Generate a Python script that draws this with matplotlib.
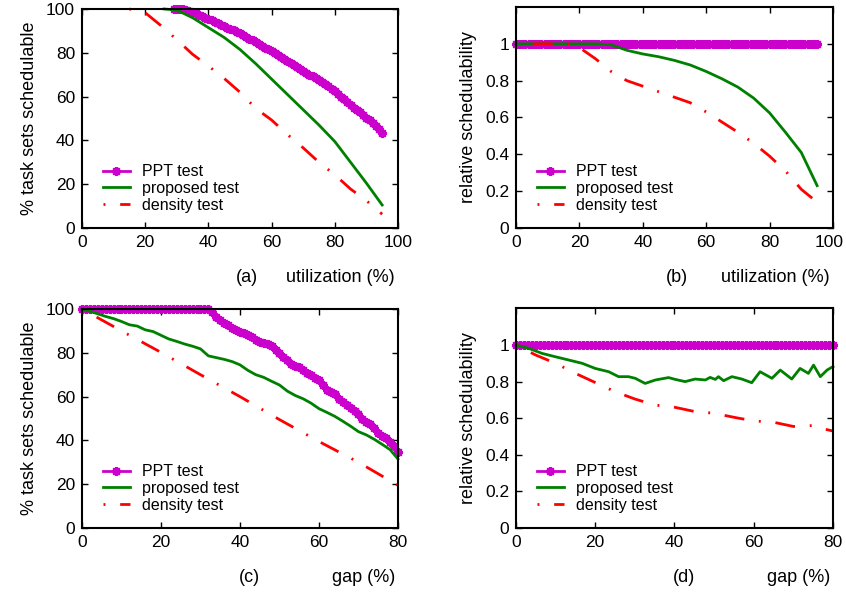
import numpy as np
import matplotlib
matplotlib.use("Agg")
import matplotlib.pyplot as plt
import matplotlib.transforms as mtransforms
from matplotlib.ticker import FormatStrFormatter

plt.rcParams['font.family'] = ['Liberation Sans', 'DejaVu Sans']

# ---- (a) % schedulable vs utilization
util_ppt = list(range(29, 96))
a_ppt = [100, 100, 100, 99.8, 99.5, 99, 98.5, 98, 97.4, 96.8, 96, 95.4, 94.8, 94,
         93.4, 92.8, 92.2, 91.5, 90.8, 90.2, 89.4, 88.8, 88, 87.3, 86.5, 85.8, 85,
         84.2, 83.2, 82.4, 81.5, 80.7, 79.8, 78.9, 78, 77.2, 76.2, 75.4, 74.5, 73.6,
         72.6, 71.8, 70.8, 70, 69.2, 68.3, 67.5, 66.6, 65.6, 64.8, 63.6, 62.4, 61.2,
         60, 58.8, 57.5, 56.3, 55, 53.9, 52.8, 51.6, 50.4, 49.2, 48, 46.6, 45, 43.5]
util_prop = [26, 30, 35, 40, 45, 50, 55, 60, 65, 70, 75, 80, 85, 90, 95]
a_prop = [100, 99.5, 96, 91.5, 87, 81.5, 75, 68, 61, 54, 47, 39.5, 30, 20.5, 10.5]
util_dens = [15, 20, 25, 30, 35, 40, 45, 50, 55, 60, 65, 70, 75, 80, 85, 90, 95]
a_dens = [100, 98.3, 92.4, 86, 79.3, 74, 68.3, 62, 54.6, 49.3, 42.7, 36.6, 30,
          24.3, 17.8, 12.5, 6.3]

# ---- (b) relative schedulability vs utilization
util_all = list(range(0, 96))
b_ppt = [1.0] * 96
util_b = [0, 5, 10, 15, 17, 20, 25, 30, 35, 40, 45, 50, 55, 60, 65, 70, 75, 80, 85, 90, 95]
b_prop = [1, 1, 1, 1, 1, 1, 1, 0.995, 0.965, 0.945, 0.93, 0.91, 0.885, 0.85, 0.81,
          0.765, 0.705, 0.625, 0.52, 0.41, 0.23]
b_dens = [1, 1, 1, 1, 1, 0.98, 0.92, 0.85, 0.8, 0.77, 0.74, 0.71, 0.68, 0.63,
          0.575, 0.52, 0.46, 0.39, 0.31, 0.21, 0.14]

# ---- (c) % schedulable vs gap
gap_all = list(range(0, 81))
c_ppt = [100] * 33 + [98.5, 96.5, 94.8, 93.8, 92.8, 91.5, 90.3, 89.6, 89.2, 88.2,
                      87, 85.8, 85.1, 84.7, 84.1, 83, 81.5, 80, 78.2, 76.5, 75, 74.2,
                      73.6, 72.3, 71, 69.8, 68.6, 67.5, 65.5, 63.2, 62, 61, 59, 57.5,
                      56.2, 55, 53.5, 52.2, 49.8, 48.5, 47.6, 45.5, 43.5, 42, 41.2,
                      39.4, 37.5, 34.5]
gap2 = list(range(0, 81, 2))
c_prop = [100, 99, 97.8, 96.6, 95.6, 94.3, 92.8, 92.2, 90.5, 89.7, 88, 86.3, 85.2,
          84, 83, 81.8, 78.6, 77.8, 77, 76, 74.5, 72, 70, 68.8, 67, 65.3, 62.5, 60.5,
          59, 57, 54.5, 52.8, 51, 48.8, 46.5, 44, 42.5, 40.5, 38.2, 35.8, 31.5]
gap10 = [0, 10, 20, 30, 40, 50, 60, 70, 80]
c_dens = [100, 90, 80.2, 70, 60, 49.5, 39.5, 30, 19.5]

# ---- (d) relative schedulability vs gap
d_ppt = [1.0] * 81
gap_d = [0, 3.2, 6.6, 9.9, 13.3, 16.7, 20, 23.4, 25.9, 28.4, 30.1, 32.6, 35.2, 38.5,
         40.2, 42.7, 45.2, 47.8, 49, 50.3, 51.1, 52.4, 54.5, 57, 59.5, 61.6, 64.6,
         66.7, 69.6, 71.7, 73.8, 75.1, 76.8, 78.5, 80]
d_prop = [1, 0.982, 0.954, 0.936, 0.918, 0.9, 0.872, 0.854, 0.827, 0.827, 0.818,
          0.79, 0.809, 0.822, 0.812, 0.8, 0.814, 0.809, 0.823, 0.812, 0.827, 0.805,
          0.827, 0.814, 0.794, 0.854, 0.818, 0.863, 0.814, 0.872, 0.845, 0.89,
          0.827, 0.863, 0.882]
gap5 = [0, 5, 10, 15, 20, 25, 30, 35, 40, 45, 50, 55, 60, 65, 70, 75, 77, 80]
d_dens = [1, 0.945, 0.9, 0.845, 0.795, 0.745, 0.705, 0.672, 0.66, 0.637, 0.627,
          0.605, 0.585, 0.578, 0.555, 0.56, 0.545, 0.53]

labels = ['PPT test', 'proposed test', 'density test']
MAG = '#cc00cc'
GRN = '#008000'
RED = '#ff0000'
dens_style = (12.5, (7.2, 5.3, 0.7, 5.3))

fig = plt.figure(figsize=(8.46, 5.94), dpi=100)

panels = [
    ([0.0969, 0.6162, 0.3735, 0.3687], (util_ppt, a_ppt), (util_prop, a_prop),
     (util_dens, a_dens), 100, 100, '(a)', 'utilization (%)', '% task sets schedulable'),
    ([0.6099, 0.6162, 0.3747, 0.372], (util_all, b_ppt), (util_b, b_prop),
     (util_b, b_dens), 100, 1.2, '(b)', 'utilization (%)', 'relative schedulability'),
    ([0.0969, 0.1111, 0.3735, 0.3687], (gap_all, c_ppt), (gap2, c_prop),
     (gap10, c_dens), 80, 100, '(c)', 'gap (%)', '% task sets schedulable'),
    ([0.6099, 0.1111, 0.3747, 0.3697], (gap_all, d_ppt), (gap_d, d_prop),
     (gap5, d_dens), 80, 1.2, '(d)', 'gap (%)', 'relative schedulability'),
]
tag_x = {'(a)': 0.522, '(b)': 0.508, '(c)': 0.53, '(d)': 0.53}

for pos, ppt, prop, dens, xmax, ymax, tag, xlab, ylab in panels:
    ax = fig.add_axes(pos)
    ax.plot(*ppt, color=MAG, lw=2, marker=(8, 2, 0), ms=6.5, mew=1.5,
            label=labels[0], clip_on=False)
    ax.plot(*prop, color=GRN, lw=2, label=labels[1], clip_on=False)
    ax.plot(*dens, color=RED, lw=2, ls=dens_style, label=labels[2], clip_on=False)
    ax.set_xlim(0, xmax)
    ax.set_ylim(0, ymax)
    ax.set_xticks(np.arange(0, xmax + 1, 20))
    if ymax > 2:
        ax.set_yticks(np.arange(0, 101, 20))
    else:
        ax.set_yticks([0, 0.2, 0.4, 0.6, 0.8, 1.0])
        ax.yaxis.set_major_formatter(FormatStrFormatter('%g'))
    ax.tick_params(direction='in', top=True, right=True, length=4, width=1,
                   labelsize=12.5, pad=5)
    for s in ax.spines.values():
        s.set_linewidth(1.5)
    ax.set_ylabel(ylab, fontsize=13, labelpad=6)
    ax.text(tag_x[tag], -0.225, tag, transform=ax.transAxes, fontsize=13,
            ha='center', va='center')
    ax.text(0.99, -0.225, xlab, transform=ax.transAxes, fontsize=13,
            ha='right', va='center')
    ax.legend(loc='lower left', bbox_to_anchor=(0.066, 0.07), frameon=False,
              fontsize=11.5, handlelength=1.7, handletextpad=0.75,
              labelspacing=0.1, borderpad=0, borderaxespad=0)
    if xmax == 100 and pos[0] > 0.5:
        # keep the last x tick label inside the figure
        fig.canvas.draw()
        last = ax.get_xticklabels()[-1]
        last.set_transform(last.get_transform() +
                           mtransforms.ScaledTranslation(-3 / 72, 0, fig.dpi_scale_trans))

fig.savefig('out.png', dpi=100)
